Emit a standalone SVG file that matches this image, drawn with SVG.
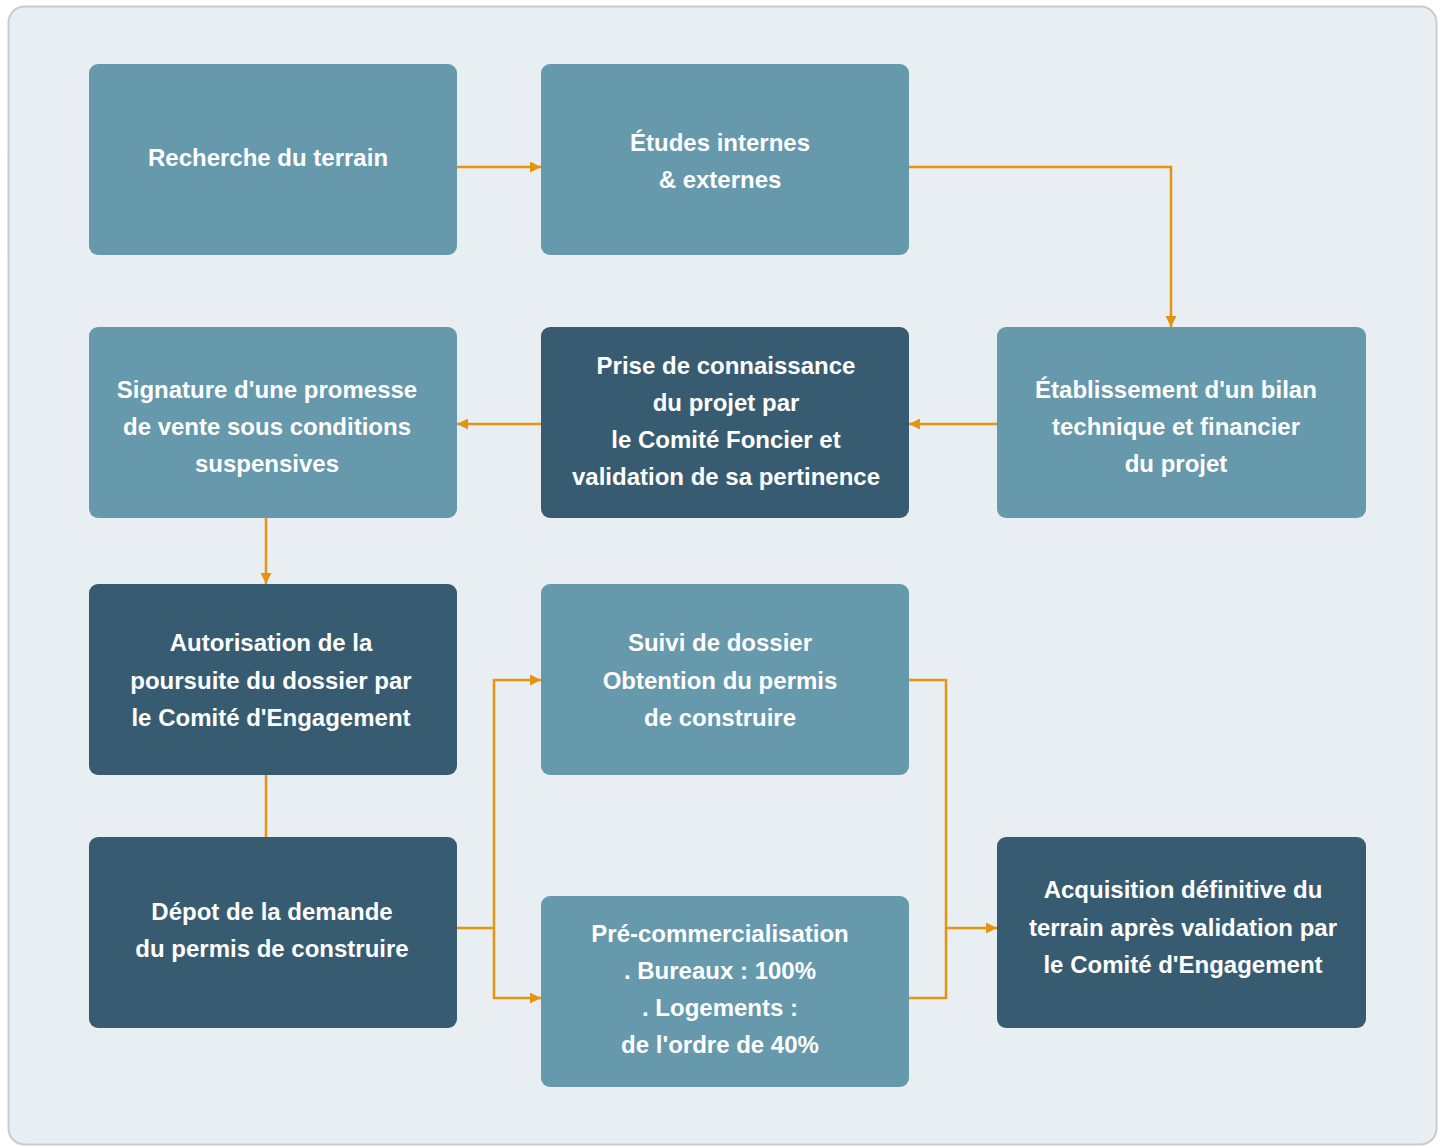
<svg xmlns="http://www.w3.org/2000/svg" width="1444" height="1147" viewBox="0 0 1444 1147">
<defs>
<marker id="arr" viewBox="0 0 10 10" refX="10" refY="5" markerWidth="11" markerHeight="11" markerUnits="userSpaceOnUse" orient="auto">
<path d="M0,0 L10,5 L0,10 z" fill="#e39512"/>
</marker>
</defs>
<style>
.light{fill:#6699ab}
.dark{fill:#375c72}
.t{fill:#ffffff;font-family:"Liberation Sans",Arial,sans-serif;font-weight:bold;font-size:24px;text-anchor:middle}
.c{fill:none;stroke:#e39512;stroke-width:2.5}
</style>
<rect x="0" y="0" width="1444" height="1147" fill="#ffffff"/>
<rect x="8.5" y="6.5" width="1428" height="1138" rx="16" fill="#e8eef1" stroke="#c9cbcc" stroke-width="2"/>
<g id="connectors">
<path class="c" d="M457,167 H541" marker-end="url(#arr)"/>
<path class="c" d="M909,167 H1171 V327" marker-end="url(#arr)"/>
<path class="c" d="M997,424 H909" marker-end="url(#arr)"/>
<path class="c" d="M541,424 H457" marker-end="url(#arr)"/>
<path class="c" d="M266,518 V584" marker-end="url(#arr)"/>
<path class="c" d="M266,775 V837"/>
<path class="c" d="M457,928 H494"/>
<path class="c" d="M494,928 V680 H541" marker-end="url(#arr)"/>
<path class="c" d="M494,928 V998 H541" marker-end="url(#arr)"/>
<path class="c" d="M909,680 H946 V998 H909"/>
<path class="c" d="M946,928 H997" marker-end="url(#arr)"/>
</g>
<g id="n1"><rect class="light" x="89" y="64" width="368" height="191" rx="9"/>
<text class="t" x="268" y="166">Recherche du terrain</text></g>
<g id="n2"><rect class="light" x="541" y="64" width="368" height="191" rx="9"/>
<text class="t" x="720" y="151">Études internes</text><text class="t" x="720" y="188">&amp; externes</text></g>
<g id="n3"><rect class="light" x="997" y="327" width="369" height="191" rx="9"/>
<text class="t" x="1176" y="398">Établissement d'un bilan</text><text class="t" x="1176" y="435">technique et financier</text><text class="t" x="1176" y="472">du projet</text></g>
<g id="n4"><rect class="dark" x="541" y="327" width="368" height="191" rx="9"/>
<text class="t" x="726" y="374">Prise de connaissance</text><text class="t" x="726" y="411">du projet par</text><text class="t" x="726" y="448">le Comité Foncier et</text><text class="t" x="726" y="485">validation de sa pertinence</text></g>
<g id="n5"><rect class="light" x="89" y="327" width="368" height="191" rx="9"/>
<text class="t" x="267" y="398">Signature d'une promesse</text><text class="t" x="267" y="435">de vente sous conditions</text><text class="t" x="267" y="472">suspensives</text></g>
<g id="n6"><rect class="dark" x="89" y="584" width="368" height="191" rx="9"/>
<text class="t" x="271" y="651">Autorisation de la</text><text class="t" x="271" y="689">poursuite du dossier par</text><text class="t" x="271" y="726">le Comité d'Engagement</text></g>
<g id="n7"><rect class="light" x="541" y="584" width="368" height="191" rx="9"/>
<text class="t" x="720" y="651">Suivi de dossier</text><text class="t" x="720" y="689">Obtention du permis</text><text class="t" x="720" y="726">de construire</text></g>
<g id="n8"><rect class="dark" x="89" y="837" width="368" height="191" rx="9"/>
<text class="t" x="272" y="920">Dépot de la demande</text><text class="t" x="272" y="957">du permis de construire</text></g>
<g id="n9"><rect class="light" x="541" y="896" width="368" height="191" rx="9"/>
<text class="t" x="720" y="942">Pré-commercialisation</text><text class="t" x="720" y="979">. Bureaux : 100%</text><text class="t" x="720" y="1016">. Logements :</text><text class="t" x="720" y="1053">de l'ordre de 40%</text></g>
<g id="n10"><rect class="dark" x="997" y="837" width="369" height="191" rx="9"/>
<text class="t" x="1183" y="898">Acquisition définitive du</text><text class="t" x="1183" y="936">terrain après validation par</text><text class="t" x="1183" y="973">le Comité d'Engagement</text></g>
</svg>
